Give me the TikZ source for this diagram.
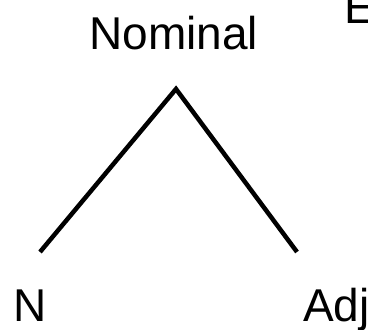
\documentclass[tikz,border=0pt]{standalone}
\usepackage{fontspec}
\setmainfont{Liberation Sans}
\begin{document}
\begin{tikzpicture}[x=1pt,y=1pt,
  label/.style={inner sep=0pt,outer sep=0pt,anchor=base west,font=\fontsize{46}{50}\selectfont},
  branch/.style={line width=4.5pt,line join=miter}]
\useasboundingbox (0,0) rectangle (368,330);
\clip (0,0) rectangle (368,330);
% labels
\node[label] (nom) at (89.5,280) {Nominal};
\node[label] (n) at (13.5,8) {N};
\node[label] (adj) at (303,8) {Adj};
\node[label] (e) at (344.5,306) {E};
% branch points
\coordinate (apex) at (176,241);
\coordinate (lend) at (40,78);
\coordinate (rend) at (297,78);
\draw[branch] (lend) -- (apex) -- (rend);
\end{tikzpicture}
\end{document}
